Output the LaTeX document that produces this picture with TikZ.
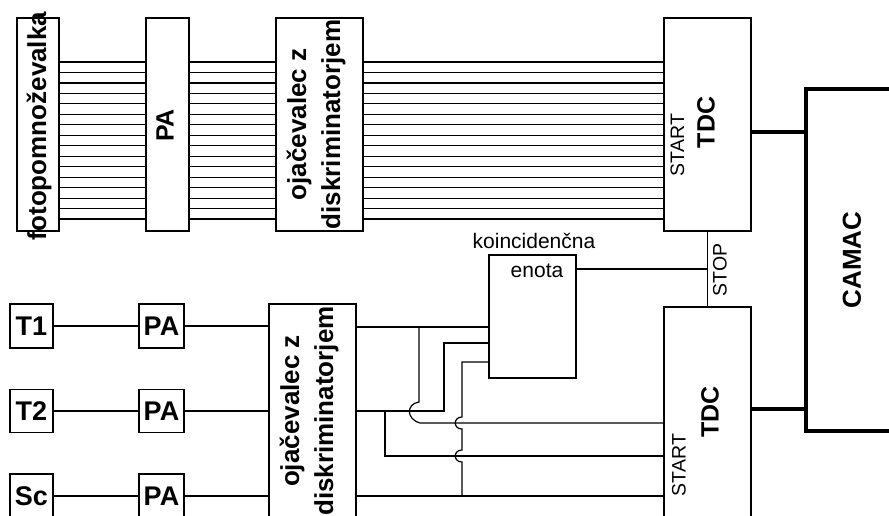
\documentclass[tikz,border=0pt]{standalone}
\usepackage{fontspec}
\setmainfont{Liberation Sans}
\begin{document}
\begin{tikzpicture}[x=1pt,y=-1pt,
  box/.style={draw, line width=1.3pt, inner sep=0pt},
  wire/.style={line width=1.2pt},
  thick wire/.style={line width=4pt},
  bigtxt/.style={font=\fontsize{25}{31}\selectfont\bfseries, inner sep=0pt},
  midtxt/.style={font=\fontsize{27}{31}\selectfont\bfseries, inner sep=0pt},
  smalltxt/.style={font=\fontsize{19.5}{22}\selectfont, inner sep=0pt},
  labtxt/.style={font=\fontsize{21}{24}\selectfont, inner sep=0pt}]
\useasboundingbox (0,0) rectangle (889,516);

% ---------- top row ----------
\node[box, minimum width=42, minimum height=213] (fpm) at (38,124.5) {};
\node[box, minimum width=43, minimum height=213] (pa1) at (167.5,124.5) {};
\node[box, minimum width=87, minimum height=213] (oj1) at (319.5,124.5) {};
\node[box, minimum width=87, minimum height=213] (tdc1) at (707.5,124.5) {};

\foreach \i in {0,...,15}{
  \pgfmathsetmacro\yy{62+\i*10.47}
  \draw[wire] (fpm.east |- 0,\yy) -- (pa1.west |- 0,\yy);
  \draw[wire] (pa1.east |- 0,\yy) -- (oj1.west |- 0,\yy);
  \draw[wire] (oj1.east |- 0,\yy) -- (tdc1.west |- 0,\yy);
}

\node[bigtxt, rotate=90, font=\fontsize{26}{31}\selectfont\bfseries] at (39,126) {fotopomnoževalka};
\node[bigtxt, rotate=90] at (165,125.5) {PA};
\node[bigtxt, rotate=90, align=center, font=\fontsize{26}{34}\selectfont\bfseries] at (316,124.5) {ojačevalec z\\diskriminatorjem};
\node[bigtxt, rotate=90] at (706,122.5) {TDC};
\node[smalltxt, rotate=90] at (677.5,145) {START};

% ---------- CAMAC ----------
\node[draw, line width=4pt, inner sep=0pt, minimum width=120, minimum height=342] (camac) at (866,260) {};
\node[bigtxt, rotate=90, font=\fontsize{26}{31}\selectfont\bfseries] at (852,260) {CAMAC};

% ---------- lower part ----------
\node[box, minimum width=87, minimum height=226] (tdc2) at (707.5,420) {};
\node[box, minimum width=87, minimum height=123] (koinc) at (532.5,316.5) {};
\node[box, minimum width=87, minimum height=230] (oj2) at (312.5,419) {};

\node[box, midtxt, minimum width=43, minimum height=44] (t1) at (31.5,326) {T1};
\node[box, midtxt, minimum width=43, minimum height=43] (t2) at (31.5,411) {T2};
\node[box, midtxt, minimum width=43, minimum height=44] (sc) at (31.5,496) {Sc};
\node[box, midtxt, minimum width=45, minimum height=44] (pa2) at (161.5,326) {PA};
\node[box, midtxt, minimum width=45, minimum height=43] (pa3) at (161.5,411) {PA};
\node[box, midtxt, minimum width=45, minimum height=44] (pa4) at (161.5,496) {PA};

\draw[wire] (t1) -- (pa2);
\draw[wire] (t2) -- (pa3);
\draw[wire] (sc) -- (pa4);
\draw[wire] (pa2.east) -- (oj2.west |- pa2.east);
\draw[wire] (pa3.east) -- (oj2.west |- pa3.east);
\draw[wire] (pa4.east) -- (oj2.west |- pa4.east);

\node[bigtxt, rotate=90, align=center, font=\fontsize{26}{34}\selectfont\bfseries] at (309,411) {ojačevalec z\\diskriminatorjem};
\node[bigtxt, rotate=90] at (710,412) {TDC};
\node[smalltxt, rotate=90] at (679,465) {START};
\node[labtxt] at (534,241) {koincidenčna};
\node[labtxt] at (537,271) {enota};
\node[smalltxt, rotate=90] at (720,270) {STOP};

% STOP and coincidence output
\draw[wire] (tdc1.south) -- (tdc2.north);
\coordinate (stopj) at (707.5,269);
\draw[wire] (koinc.east |- stopj) -- (stopj);

% thick outputs to CAMAC
\draw[thick wire] (tdc1.east |- 0,132) -- (camac.west |- 0,132);
\draw[thick wire] (tdc2.east |- 0,409) -- (camac.west |- 0,409);

% junctions
\coordinate (jA) at (419,327);
\coordinate (jB) at (444,411);
\coordinate (jB2) at (385,411);
\coordinate (jC) at (462,496);

% output 1 (T1)
\draw[wire] (oj2.east |- 0,327) -- (koinc.west |- 0,327);
\draw[wire] (jA) -- (419,402) .. controls (406,404) and (406,419) .. (420,423) -- (tdc2.west |- 0,423);

% output 2 (T2)
\draw[wire] (oj2.east |- 0,411) -- (jB) -- (444,343) -- (koinc.west |- 0,343);
\draw[wire] (jB2) -- (385,456) -- (tdc2.west |- 0,456);

% output 3 (Sc)
\draw[wire] (oj2.east |- 0,496) -- (tdc2.west |- 0,496);
\draw[wire] (jC) -- (462,462) .. controls (453,462) and (453,450) .. (462,450)
  -- (462,429) .. controls (453,429) and (453,417) .. (462,417)
  -- (462,362) -- (koinc.west |- 0,362);
\end{tikzpicture}
\end{document}
